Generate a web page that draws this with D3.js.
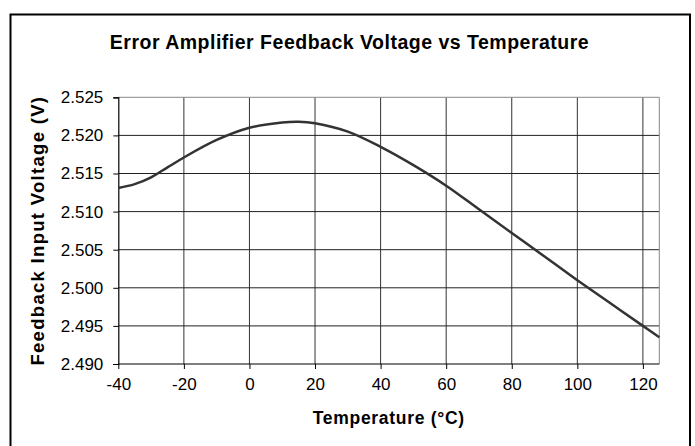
<!DOCTYPE html>
<html>
<head>
<meta charset="utf-8">
<script src="https://cdn.jsdelivr.net/npm/d3@7"></script>
<style>
  body { margin: 0; background: #fff; }
  text { font-family: "Liberation Sans", Arial, sans-serif; fill: #000; }
</style>
</head>
<body>
<div id="chart"></div>
<script>
// temperature (°C) vs feedback input voltage (V)
const temps = [-40, -35, -30, -25, -20, -10, 0, 10, 15, 20, 30, 40, 50, 60, 70, 80, 90, 100, 110, 120, 125];
const volts = [2.5131, 2.5136, 2.5145, 2.5158, 2.5171, 2.5194, 2.5210, 2.5217, 2.5218, 2.5216, 2.5205, 2.5185,
               2.5161, 2.5134, 2.5103, 2.5072, 2.5041, 2.5010, 2.4980, 2.4950, 2.4935];
const xTicks = [-40, -20, 0, 20, 40, 60, 80, 100, 120];
const yTicks = [2.490, 2.495, 2.500, 2.505, 2.510, 2.515, 2.520, 2.525];

const width = 695, height = 446;
const margin = {left: 118.3, right: 695 - 659.3, top: 97.3, bottom: 446 - 364};

const svg = d3.select("#chart")
  .append("svg")
  .attr("width", width)
  .attr("height", height);

// outer frame (bottom edge runs off the picture)
svg.append("rect")
  .attr("x", 10.5)
  .attr("y", 14.5)
  .attr("width", 679.5)
  .attr("height", 445)
  .attr("fill", "none")
  .attr("stroke", "#000")
  .attr("stroke-width", 2);

const x = d3.scaleLinear().domain([-40, 125]).range([margin.left, width - margin.right]);
const y = d3.scaleLinear().domain([2.490, 2.525]).range([height - margin.bottom, margin.top]);

// grid
svg.append("g")
  .selectAll("line")
  .data(xTicks.slice(1))
  .enter()
  .append("line")
  .attr("x1", d => x(d)).attr("x2", d => x(d))
  .attr("y1", y(2.525)).attr("y2", y(2.490))
  .attr("stroke", "#333")
  .attr("stroke-width", 1);

svg.append("g")
  .selectAll("line")
  .data(yTicks.slice(1, -1))
  .enter()
  .append("line")
  .attr("x1", x(-40)).attr("x2", x(125))
  .attr("y1", d => y(d)).attr("y2", d => y(d))
  .attr("stroke", "#222")
  .attr("stroke-width", 1);

// plot box top and right in grey
svg.append("path")
  .attr("d", `M${x(-40)},${y(2.525)}H${x(125)}V${y(2.490)}`)
  .attr("fill", "none")
  .attr("stroke", "#888")
  .attr("stroke-width", 1);

// axes
const xAxis = svg.append("g")
  .attr("transform", `translate(0,${y(2.490)})`)
  .call(d3.axisBottom(x).tickValues(xTicks).tickSize(5).tickPadding(9).tickFormat(d => String(d)));

const yAxis = svg.append("g")
  .attr("transform", `translate(${x(-40)},0)`)
  .call(d3.axisLeft(y).tickValues(yTicks).tickSize(5).tickPadding(10).tickFormat(d3.format(".3f")));

[xAxis, yAxis].forEach(a => {
  a.select(".domain").attr("stroke", "#000").attr("stroke-width", 1.2);
  a.selectAll(".tick line").attr("stroke", "#000");
  a.selectAll(".tick text")
    .attr("font-family", "Liberation Sans, Arial, sans-serif")
    .attr("font-size", 17)
    .attr("fill", "#000");
});
xAxis.select(".domain").attr("d", `M${x(-40)},0H${x(125)}`);

// the curve
const line = d3.line()
  .x((d, i) => x(temps[i]))
  .y(d => y(d))
  .curve(d3.curveCatmullRom);

svg.append("path")
  .datum(volts)
  .attr("d", line)
  .attr("fill", "none")
  .attr("stroke", "#333")
  .attr("stroke-width", 2.5);

// titles
svg.append("text")
  .attr("x", 349.5)
  .attr("y", 49)
  .attr("text-anchor", "middle")
  .attr("font-size", 19.5)
  .attr("font-weight", "bold")
  .attr("letter-spacing", 0.5)
  .text("Error Amplifier Feedback Voltage vs Temperature");

svg.append("text")
  .attr("x", (x(-40) + x(125)) / 2)
  .attr("y", 423.5)
  .attr("text-anchor", "middle")
  .attr("font-size", 17.5)
  .attr("font-weight", "bold")
  .attr("letter-spacing", 0.7)
  .text("Temperature (°C)");

svg.append("text")
  .attr("transform", `translate(44,${(y(2.525) + y(2.490)) / 2}) rotate(-90)`)
  .attr("text-anchor", "middle")
  .attr("font-size", 18.5)
  .attr("font-weight", "bold")
  .attr("letter-spacing", 1.3)
  .text("Feedback Input Voltage (V)");
</script>
</body>
</html>
